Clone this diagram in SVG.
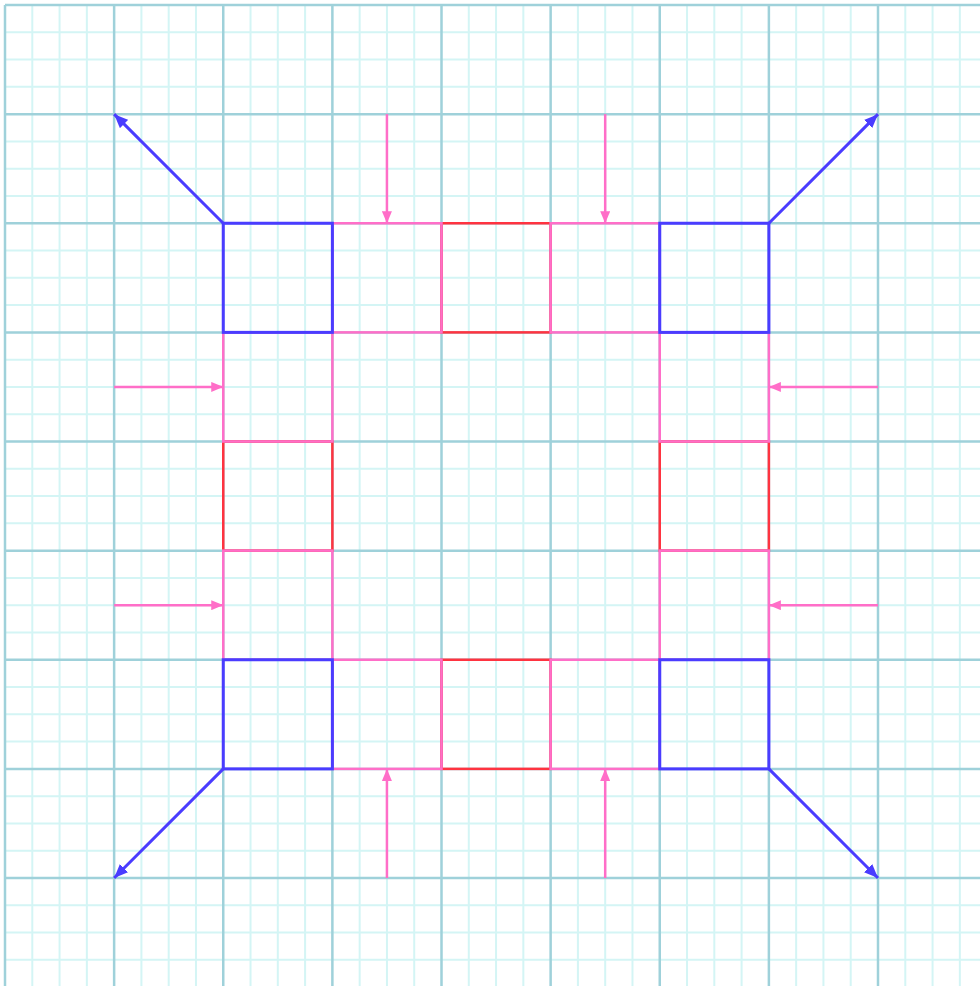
<svg xmlns="http://www.w3.org/2000/svg" width="980" height="986" viewBox="0 0 980 986">
<style>
.minor{stroke:#d4f5f5;stroke-width:2;fill:none}
.major{stroke:#9fd1da;stroke-width:2.5;fill:none}
.pink{fill:none;stroke:#ff6ec8;stroke-width:2.5}
.red{fill:none;stroke:#ff3340;stroke-width:2.5}
.blue{fill:none;stroke:#4a3cff;stroke-width:3}
.ba{stroke:#4a3cff;stroke-width:3;fill:none;marker-end:url(#hb)}
.pa{stroke:#ff6ec8;stroke-width:2.5;fill:none;marker-end:url(#hp)}
</style>
<defs>
<marker id="hb" markerUnits="userSpaceOnUse" viewBox="0 0 12 10" refX="12" refY="5" markerWidth="14" markerHeight="12" orient="auto"><path d="M0,0L12,5L0,10z" fill="#4a3cff"/></marker>
<marker id="hp" markerUnits="userSpaceOnUse" viewBox="0 0 12 10" refX="12" refY="5" markerWidth="12" markerHeight="10" orient="auto"><path d="M0,0L12,5L0,10z" fill="#ff6ec8"/></marker>
</defs>
<rect width="980" height="986" fill="#ffffff"/>
<g id="grid">
<path class="minor" d="M32.28 5V986M59.56 5V986M86.84 5V986M141.41 5V986M168.69 5V986M195.97 5V986M250.53 5V986M277.81 5V986M305.09 5V986M359.66 5V986M386.94 5V986M414.22 5V986M468.78 5V986M496.06 5V986M523.34 5V986M577.91 5V986M605.19 5V986M632.47 5V986M687.03 5V986M714.31 5V986M741.59 5V986M796.16 5V986M823.44 5V986M850.72 5V986M905.28 5V986M932.56 5V986M959.84 5V986"/>
<path class="minor" d="M5 32.28H980M5 59.56H980M5 86.84H980M5 141.41H980M5 168.69H980M5 195.97H980M5 250.53H980M5 277.81H980M5 305.09H980M5 359.66H980M5 386.94H980M5 414.22H980M5 468.78H980M5 496.06H980M5 523.34H980M5 577.91H980M5 605.19H980M5 632.47H980M5 687.03H980M5 714.31H980M5 741.59H980M5 796.16H980M5 823.44H980M5 850.72H980M5 905.28H980M5 932.56H980M5 959.84H980"/>
<path class="major" d="M5 5V986M114.13 5V986M223.25 5V986M332.38 5V986M441.5 5V986M550.63 5V986M659.75 5V986M768.88 5V986M878 5V986"/>
<path class="major" d="M5 5H980M5 114.13H980M5 223.25H980M5 332.38H980M5 441.5H980M5 550.63H980M5 659.75H980M5 768.88H980M5 878H980"/>
</g>
<g id="nodes">
<g id="r-top"><rect class="red" x="441.5" y="223.25" width="109.13" height="109.13"/></g>
<g id="r-left"><rect class="red" x="223.25" y="441.5" width="109.13" height="109.13"/></g>
<g id="r-right"><rect class="red" x="659.75" y="441.5" width="109.13" height="109.13"/></g>
<g id="r-bottom"><rect class="red" x="441.5" y="659.75" width="109.13" height="109.13"/></g>
<g id="p-top-1"><rect class="pink" x="332.38" y="223.25" width="109.12" height="109.13"/></g>
<g id="p-top-2"><rect class="pink" x="550.63" y="223.25" width="109.12" height="109.13"/></g>
<g id="p-left-1"><rect class="pink" x="223.25" y="332.38" width="109.13" height="109.12"/></g>
<g id="p-left-2"><rect class="pink" x="223.25" y="550.63" width="109.13" height="109.12"/></g>
<g id="p-right-1"><rect class="pink" x="659.75" y="332.38" width="109.13" height="109.12"/></g>
<g id="p-right-2"><rect class="pink" x="659.75" y="550.63" width="109.13" height="109.12"/></g>
<g id="p-bottom-1"><rect class="pink" x="332.38" y="659.75" width="109.12" height="109.13"/></g>
<g id="p-bottom-2"><rect class="pink" x="550.63" y="659.75" width="109.12" height="109.13"/></g>
<g id="b-tl"><rect class="blue" x="223.25" y="223.25" width="109.13" height="109.13"/></g>
<g id="b-tr"><rect class="blue" x="659.75" y="223.25" width="109.13" height="109.13"/></g>
<g id="b-bl"><rect class="blue" x="223.25" y="659.75" width="109.13" height="109.13"/></g>
<g id="b-br"><rect class="blue" x="659.75" y="659.75" width="109.13" height="109.13"/></g>
</g>
<g id="connectors">
<line class="ba" x1="223.25" y1="223.25" x2="114.13" y2="114.13"/>
<line class="ba" x1="768.88" y1="223.25" x2="878" y2="114.13"/>
<line class="ba" x1="223.25" y1="768.88" x2="114.13" y2="878"/>
<line class="ba" x1="768.88" y1="768.88" x2="878" y2="878"/>
<line class="pa" x1="386.94" y1="114.13" x2="386.94" y2="223.25"/>
<line class="pa" x1="605.19" y1="114.13" x2="605.19" y2="223.25"/>
<line class="pa" x1="386.94" y1="878" x2="386.94" y2="768.88"/>
<line class="pa" x1="605.19" y1="878" x2="605.19" y2="768.88"/>
<line class="pa" x1="114.13" y1="386.94" x2="223.25" y2="386.94"/>
<line class="pa" x1="114.13" y1="605.19" x2="223.25" y2="605.19"/>
<line class="pa" x1="878" y1="386.94" x2="768.88" y2="386.94"/>
<line class="pa" x1="878" y1="605.19" x2="768.88" y2="605.19"/>
</g>
</svg>
